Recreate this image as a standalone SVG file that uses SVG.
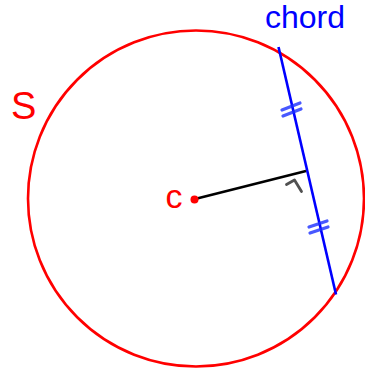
<svg xmlns="http://www.w3.org/2000/svg" width="365" height="372" viewBox="0 0 365 372">
<style>
.lbl{font-family:"Liberation Sans",Arial,sans-serif}
.red{fill:#ff0000}
.blue{fill:#0000ff}
.tick{stroke:#1a2eff;stroke-width:3.2;stroke-opacity:0.8;fill:none;stroke-linecap:round}
</style>
<rect width="365" height="372" fill="#ffffff"/>
<g id="circle-S">
<circle cx="196" cy="198.5" r="168" fill="none" stroke="#ff0000" stroke-width="2.6"/>
<text class="lbl red" x="11" y="119" font-size="38">S</text>
</g>
<g id="connectors">
<line id="chord-line" x1="278.5" y1="47" x2="336" y2="294.5" stroke="#0000ff" stroke-width="2.6"/>
<line id="radius" x1="195" y1="199" x2="306" y2="171" stroke="#000000" stroke-width="2.6"/>
<path class="tick" d="M282,110 L300,103 M283,116 L301,109"/>
<path class="tick" d="M309,227 L327,221 M310,233 L328,227"/>
<path d="M286.5,184.5 L294.5,180 L301.5,191.5" fill="none" stroke="#333333" stroke-opacity="0.85" stroke-width="2.8" stroke-linecap="round" stroke-linejoin="round"/>
</g>
<g id="center-c">
<circle cx="194.5" cy="199.5" r="4" fill="#ff0000"/>
<text class="lbl red" x="165.5" y="208" font-size="34">c</text>
</g>
<g id="chord-label">
<text class="lbl blue" x="265" y="28" font-size="32">chord</text>
</g>
</svg>
